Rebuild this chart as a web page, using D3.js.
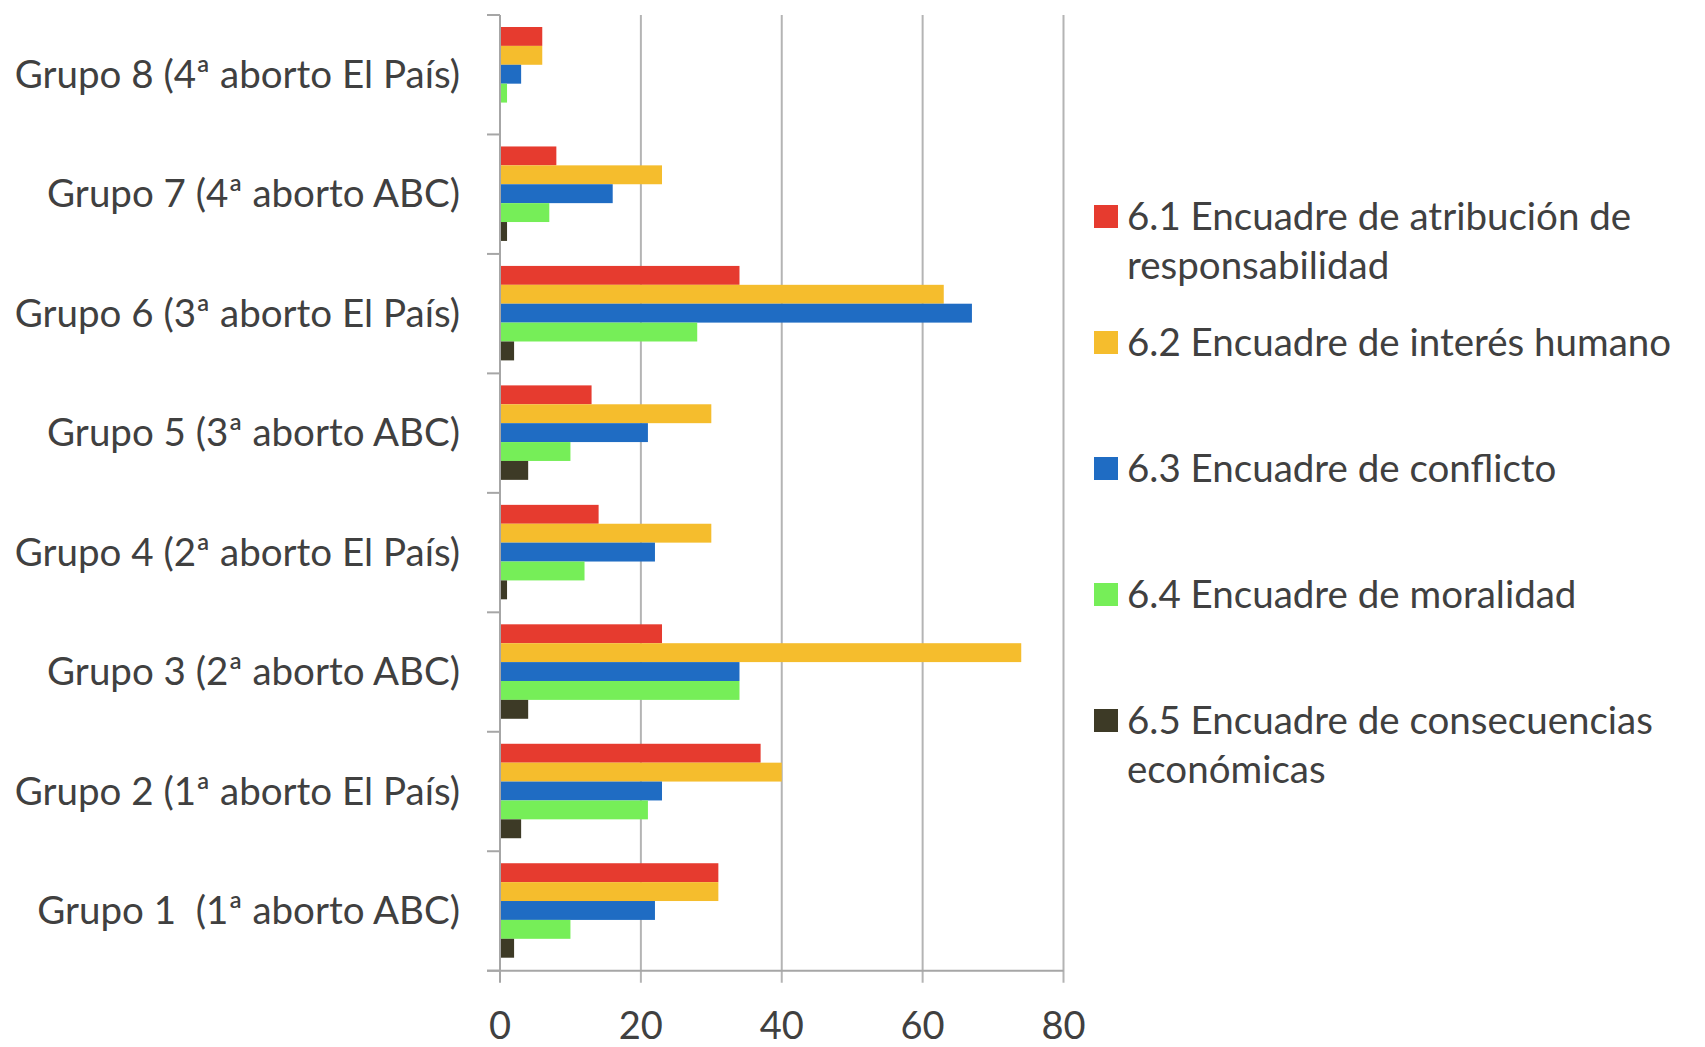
<!DOCTYPE html>
<html>
<head>
<meta charset="utf-8">
<script src="https://cdn.jsdelivr.net/npm/d3@7"></script>
<style>
  body { margin: 0; background: #fff; }
  text { font-family: Lato, "Open Sans", sans-serif; fill: #404040; white-space: pre; }
</style>
</head>
<body>
<script>
// groups from bottom to top, as in the picture
const groups = [
  "Grupo 1  (1ª aborto ABC)",
  "Grupo 2 (1ª aborto El País)",
  "Grupo 3 (2ª aborto ABC)",
  "Grupo 4 (2ª aborto El País)",
  "Grupo 5 (3ª aborto ABC)",
  "Grupo 6 (3ª aborto El País)",
  "Grupo 7 (4ª aborto ABC)",
  "Grupo 8 (4ª aborto El País)"
]
const seriesNames = [
  "6.1 Encuadre de atribución de responsabilidad",
  "6.2 Encuadre de interés humano",
  "6.3 Encuadre de conflicto",
  "6.4 Encuadre de moralidad",
  "6.5 Encuadre de consecuencias económicas"
]
const legendLines = [
  ["6.1 Encuadre de atribución de", "responsabilidad"],
  ["6.2 Encuadre de interés humano"],
  ["6.3 Encuadre de conflicto"],
  ["6.4 Encuadre de moralidad"],
  ["6.5 Encuadre de consecuencias", "económicas"]
]
const colors = ["#e63b2f", "#f5bd2d", "#1f6cc3", "#76ee58", "#3d3a26"]

// values per series, same order as groups (Grupo 1 .. Grupo 8)
const atribucion = [31, 37, 23, 14, 13, 34, 8, 6]
const interes    = [31, 40, 74, 30, 30, 63, 23, 6]
const conflicto  = [22, 23, 34, 22, 21, 67, 16, 3]
const moralidad  = [10, 21, 34, 12, 10, 28, 7, 1]
const economicas = [2, 3, 4, 1, 4, 2, 1, 0]
const xTicks = [0, 20, 40, 60, 80]

const seriesValues = [atribucion, interes, conflicto, moralidad, economicas]

const W = 1705, H = 1047
const svg = d3.select("body").append("svg")
    .attr("width", W)
    .attr("height", H)

const plotLeft = 500, plotRight = 1063.5, plotTop = 15, plotBottom = 970.7

const x = d3.scaleLinear().domain([0, 80]).range([plotLeft, plotRight])
const y0 = d3.scaleBand()
    .domain(groups.slice().reverse())
    .range([plotTop, plotBottom])
    .padding(0)
const y1 = d3.scaleBand()
    .domain(seriesNames)
    .range([12, y0.bandwidth() - 13])
    .padding(0)

// vertical gridlines (and tick marks under the axis)
svg.append("g")
    .selectAll("line")
    .data(xTicks)
    .enter()
    .append("line")
    .attr("x1", d => x(d))
    .attr("x2", d => x(d))
    .attr("y1", plotTop)
    .attr("y2", plotBottom + 12)
    .attr("stroke", d => d === 0 ? "#a6a6a6" : "#b4b4b4")
    .attr("stroke-width", 2)

// bars
const rows = []
groups.forEach((g, gi) => {
  seriesNames.forEach((s, si) => {
    rows.push({ group: g, series: s, value: seriesValues[si][gi], color: colors[si] })
  })
})
svg.append("g")
    .selectAll("rect")
    .data(rows)
    .enter()
    .append("rect")
    .attr("x", x(0) + 1)
    .attr("y", d => y0(d.group) + y1(d.series))
    .attr("width", d => Math.max(0, x(d.value) - x(0) - 1))
    .attr("height", y1.bandwidth())
    .style("fill", d => d.color)

// category boundary ticks on the left axis
const bounds = y0.domain().map(g => y0(g)).concat([plotBottom])
svg.append("g")
    .selectAll("line")
    .data(bounds)
    .enter()
    .append("line")
    .attr("x1", plotLeft - 13)
    .attr("x2", plotLeft)
    .attr("y1", d => d)
    .attr("y2", d => d)
    .attr("stroke", "#a6a6a6")
    .attr("stroke-width", 2)

// horizontal axis line
svg.append("line")
    .attr("x1", plotLeft - 13)
    .attr("x2", plotRight)
    .attr("y1", plotBottom)
    .attr("y2", plotBottom)
    .attr("stroke", "#a6a6a6")
    .attr("stroke-width", 2)

// x tick labels
svg.append("g")
    .selectAll("text")
    .data(xTicks)
    .enter()
    .append("text")
    .attr("x", d => x(d))
    .attr("y", 1039)
    .attr("text-anchor", "middle")
    .style("font-size", "38px")
    .text(d => d)

// category labels
svg.append("g")
    .selectAll("text")
    .data(groups)
    .enter()
    .append("text")
    .attr("x", 460)
    .attr("y", d => y0(d) + y0.bandwidth() / 2 + 13)
    .attr("text-anchor", "end")
    .style("font-size", "38.5px")
    .text(d => d)

// legend
const legend = svg.append("g")
const legY = d3.scalePoint().domain(seriesNames).range([228, 732])
seriesNames.forEach((s, i) => {
  const by = legY(s)
  legend.append("rect")
      .attr("x", 1094)
      .attr("y", by - 23)
      .attr("width", 24)
      .attr("height", 23)
      .style("fill", colors[i])
  legend.append("text")
      .attr("x", 1127)
      .attr("y", by + 2)
      .style("font-size", "38.5px")
      .selectAll("tspan")
      .data(legendLines[i])
      .enter()
      .append("tspan")
      .attr("x", 1127)
      .attr("dy", (d, j) => j === 0 ? 0 : 49)
      .text(d => d)
})
</script>
</body>
</html>
